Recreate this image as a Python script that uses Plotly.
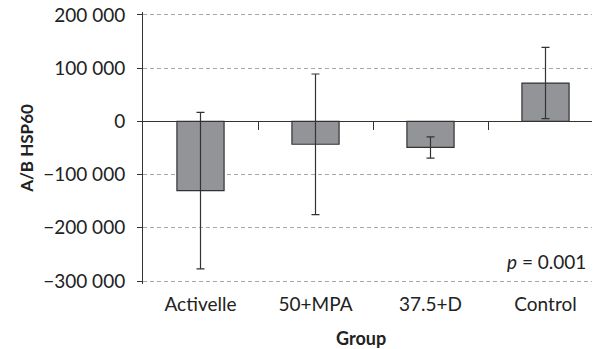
import plotly.graph_objects as go

categories = ["Activelle", "50+MPA", "37.5+D", "Control"]
values = [-130000, -43000, -49000, 72000]
errors = [147000, 132000, 20000, 67000]
y_ticks = [-300000, -200000, -100000, 0, 100000, 200000]
y_tick_labels = ["\u2212300 000", "\u2212200 000", "\u2212100 000", "0", "100 000", "200 000"]
boundaries = [0.5, 1.5, 2.5]

FONT = "Lato"
DARK = "#333333"

fig = go.Figure()
fig.add_trace(go.Bar(
    x=list(range(len(categories))), y=values,
    width=0.41,
    marker=dict(color="#929497", line=dict(color=DARK, width=1.2)),
    error_y=dict(type="data", array=errors, visible=True, color=DARK, thickness=1.2, width=4),
    showlegend=False,
))
# invisible trace to activate the secondary x axis used for boundary ticks
fig.add_trace(go.Scatter(x=boundaries, y=[0, 0, 0], xaxis="x2", mode="markers",
                         marker=dict(opacity=0), showlegend=False, hoverinfo="skip"))

xr = [-0.5, 3.5]
yr = [-305500, 205500]
zero_pos = (0 - yr[0]) / (yr[1] - yr[0])
fig.update_layout(
    width=600, height=349,
    margin=dict(l=135, r=5, t=4, b=73),
    plot_bgcolor="white", paper_bgcolor="white",
    font=dict(family=FONT, size=19, color="#222222"),
    xaxis=dict(
        range=xr, tickmode="array", tickvals=list(range(len(categories))), ticktext=categories,
        showgrid=False, showline=False, zeroline=False, ticks="", automargin=False,
        ticklabelstandoff=7, ticklabeloverflow="allow",
    ),
    xaxis2=dict(
        overlaying="x", anchor="free", position=zero_pos, range=xr,
        tickmode="array", tickvals=boundaries, showticklabels=False,
        ticks="outside", ticklen=8, tickcolor=DARK, tickwidth=1,
        showgrid=False, showline=True, linecolor=DARK, linewidth=1, zeroline=False,
    ),
    yaxis=dict(
        range=yr, tickmode="array", tickvals=y_ticks, ticktext=y_tick_labels,
        showgrid=True, gridcolor="#a8a8a8", griddash="4px,3px", gridwidth=1,
        zeroline=False, automargin=False, ticklabeloverflow="allow",
        showline=True, linecolor=DARK, linewidth=1,
        ticks="outside", ticklen=5, tickcolor=DARK, ticklabelstandoff=8,
        title=dict(text="<b>A/B HSP60</b>", standoff=5, font=dict(size=17)),
    ),
    annotations=[
        dict(text="<i>p</i> = 0.001", xref="paper", yref="paper", x=0.967, y=0.081,
             xanchor="right", yanchor="middle", showarrow=False, font=dict(size=19)),
        dict(text="<b>Group</b>", xref="paper", yref="paper", x=0.474, y=-0.197,
             xanchor="center", yanchor="middle", showarrow=False, font=dict(size=18)),
    ],
)

fig.write_html("out.html")
